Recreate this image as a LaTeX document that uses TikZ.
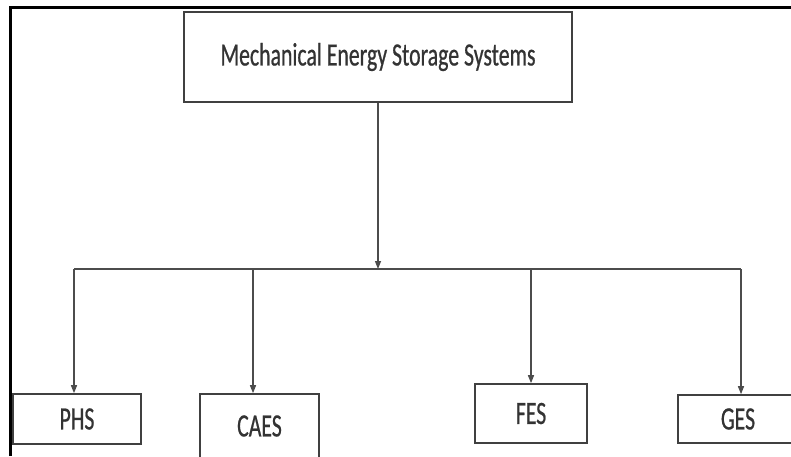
\documentclass[tikz,border=0pt]{standalone}
\usepackage{fontspec}
\setmainfont{Carlito}
\newfontfamily\boxfont[FakeStretch=0.67,FakeBold=0.6]{Carlito}
\usepackage{tikz}
\usetikzlibrary{arrows.meta,positioning}

\tikzset{
    sysbox/.style={draw=black!75, line width=1.6pt, fill=white, text=black!80, inner sep=0pt,
        font=\boxfont\fontsize{32.5}{34}\selectfont},
    link/.style={draw=black!70, line width=1.3pt},
    linkarr/.style={link, -{Triangle[length=8pt,width=6pt]}}
}

\begin{document}
\begin{tikzpicture}[x=1pt,y=-1pt]
    \useasboundingbox (0,0) rectangle (791,456);
    \clip (0,0) rectangle (791,456);
    % outer frame
    \draw[line width=3pt] (10,456) -- (10,7) -- (795,7);
    % main box
    \node[sysbox, minimum width=388pt, minimum height=90pt] (mess) at (378,57) {Mechanical Energy Storage Systems};
    % subsystems
    \node[sysbox, minimum width=128pt, minimum height=50pt] (phs) at (77,419) {PHS};
    \node[sysbox, minimum width=119pt, minimum height=64pt] (caes) at (259.5,426) {CAES};
    \node[sysbox, minimum width=112pt, minimum height=59pt] (fes) at (531,413.5) {FES};
    \node[sysbox, minimum width=120pt, minimum height=48pt] (ges) at (738,419) {GES};
    % bus and branches
    \coordinate (bl) at (74,269);
    \coordinate (br) at (741,269);
    \coordinate (bc) at (253,269);
    \coordinate (bf) at (531,269);
    \draw[link] (bl) -- (br);
    \draw[linkarr] (mess.south) -- (mess.south |- bl);
    \draw[linkarr] (bl) -- (bl |- phs.north);
    \draw[linkarr] (bc) -- (bc |- caes.north);
    \draw[linkarr] (bf) -- (bf |- fes.north);
    \draw[linkarr] (br) -- (br |- ges.north);
\end{tikzpicture}
\end{document}
